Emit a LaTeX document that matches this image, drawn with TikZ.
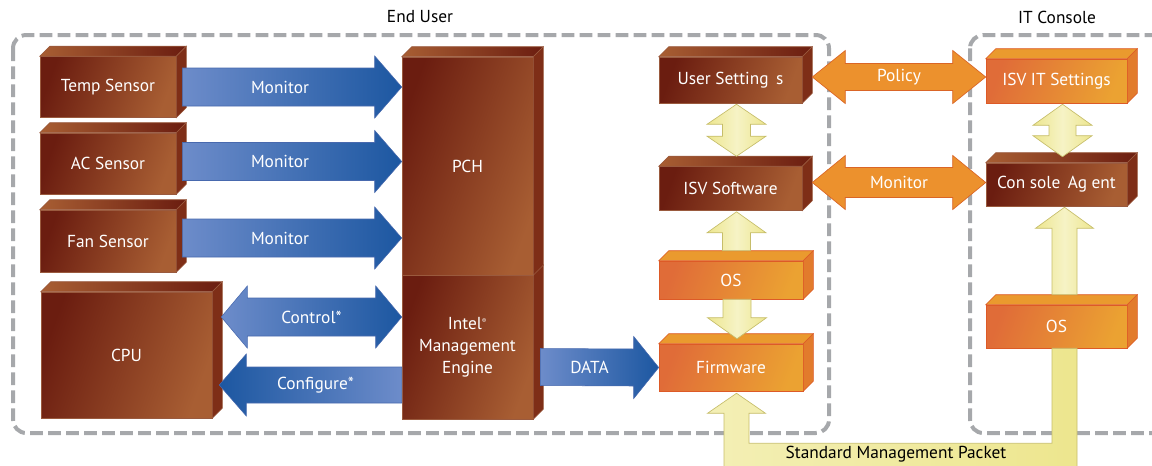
\documentclass[tikz,border=0pt]{standalone}
\usepackage{fontspec}
\setmainfont{PT Sans}
\usetikzlibrary{positioning,calc}

\definecolor{brownD}{HTML}{6B1D10}
\definecolor{brownL}{HTML}{A85E33}
\definecolor{brownS}{HTML}{7E2E17}
\definecolor{brownE}{HTML}{9A5A3E}
\definecolor{orangeD}{HTML}{E06C38}
\definecolor{orangeL}{HTML}{EBA232}
\definecolor{orangeT}{HTML}{EA9A2E}
\definecolor{orangeS}{HTML}{E27B2C}
\definecolor{orangeE}{HTML}{DD5A27}
\definecolor{blueL}{HTML}{6D8CCA}
\definecolor{blueD}{HTML}{1C57A1}
\definecolor{blueE}{HTML}{4869AE}
\definecolor{arrowO}{HTML}{EC912D}
\definecolor{arrowOE}{HTML}{DA6526}
\definecolor{yelF}{HTML}{EDE68E}
\definecolor{yelL}{HTML}{F6F3C6}
\definecolor{yelE}{HTML}{C6BD6A}
\definecolor{dashgray}{HTML}{A6A8AB}

\newcommand{\boxfont}{\fontsize{13}{16.5}\selectfont}

% top and side face of a box node
\newcommand{\boxfaces}[3]{%
  \path[#2] (#1.north west) -- ++(10,-10) -- ($(#1.north east)+(10,-10)$) -- (#1.north east) -- cycle;
  \path[#3] (#1.north east) -- ++(10,-10) -- ($(#1.south east)+(10,-10)$) -- (#1.south east) -- cycle;}

% block arrows: style, tail, tip, shaft half, head half, head length
\newcommand{\harrow}[6]{%
  \path[#1] ($(#2)+(0,-#4)$) -- ($(#3)+(#6,-#4)$) -- ($(#3)+(#6,-#5)$) -- (#3)
    -- ($(#3)+(#6,#5)$) -- ($(#3)+(#6,#4)$) -- ($(#2)+(0,#4)$) -- cycle;}
\newcommand{\varrow}[6]{%
  \path[#1] ($(#2)+(-#4,0)$) -- ($(#3)+(-#4,#6)$) -- ($(#3)+(-#5,#6)$) -- (#3)
    -- ($(#3)+(#5,#6)$) -- ($(#3)+(#4,#6)$) -- ($(#2)+(#4,0)$) -- cycle;}
\newcommand{\hdarrow}[6]{%
  \path[#1] (#2) -- ($(#2)+(#6,-#5)$) -- ($(#2)+(#6,-#4)$) -- ($(#3)+(-#6,-#4)$) -- ($(#3)+(-#6,-#5)$) -- (#3)
    -- ($(#3)+(-#6,#5)$) -- ($(#3)+(-#6,#4)$) -- ($(#2)+(#6,#4)$) -- ($(#2)+(#6,#5)$) -- cycle;}
\newcommand{\vdarrow}[6]{%
  \path[#1] (#2) -- ($(#2)+(#5,#6)$) -- ($(#2)+(#4,#6)$) -- ($(#3)+(#4,-#6)$) -- ($(#3)+(#5,-#6)$) -- (#3)
    -- ($(#3)+(-#5,-#6)$) -- ($(#3)+(-#4,-#6)$) -- ($(#2)+(-#4,#6)$) -- ($(#2)+(-#5,#6)$) -- cycle;}

\begin{document}
\begin{tikzpicture}[x=0.75pt, y=-0.75pt,
  boxsize/.style 2 args={minimum width={#1*0.75pt}, minimum height={#2*0.75pt}},
  brownbox/.style={draw=brownE, line width=0.4pt, left color=brownD, right color=brownL, shading angle=70, text=white, font=\boxfont, inner sep=0pt, align=center},
  orangebox/.style={draw=orangeE, line width=0.4pt, left color=orangeD, right color=orangeL, shading angle=70, text=white, font=\boxfont, inner sep=0pt, align=center},
  browntop/.style={draw=brownE, line width=0.4pt, left color=brownL, right color=brownD},
  brownside/.style={draw=brownE, line width=0.4pt, fill=brownS},
  orangetop/.style={draw=orangeE, line width=0.4pt, fill=orangeT},
  orangeside/.style={draw=orangeE, line width=0.4pt, fill=orangeS},
  bluearrowR/.style={draw=blueE, line width=0.4pt, left color=blueL, right color=blueD},
  bluearrowL/.style={draw=blueE, line width=0.4pt, left color=blueD, right color=blueL},
  orangearrow/.style={draw=arrowOE, line width=0.5pt, fill=arrowO},
  yellowarrow/.style={draw=yelE, line width=0.5pt, left color=yelF, right color=yelF, middle color=yelL},
  arrowtext/.style={text=white, font=\boxfont, inner sep=0pt},
  grouplabel/.style={text=black, font=\boxfont},
  groupbox/.style={draw=dashgray, line width=3pt, dash pattern=on 9.5pt off 4pt, rounded corners=10pt}
]
\useasboundingbox (0,0) rectangle (1152,465);
\clip (0,0) rectangle (1152,465);

% groups
\draw[groupbox] (13,35) rectangle (829,433);
\draw[groupbox] (970,35) rectangle (1185,433);
\node[grouplabel] (enduser) at (420,17) {End User};
\node[grouplabel] (itconsole) at (1057,17) {IT Console};

% end user boxes
\node[brownbox, boxsize={136}{61}] (temp) at (108,87) {Temp Sensor};
\boxfaces{temp}{browntop}{brownside}
\node[brownbox, boxsize={136}{61}] (ac) at (108,163.5) {AC Sensor};
\boxfaces{ac}{browntop}{brownside}
\node[brownbox, boxsize={136}{62}] (fan) at (108,241) {Fan Sensor};
\boxfaces{fan}{browntop}{brownside}
\node[brownbox, boxsize={171}{126}] (cpu) at (126.5,355) {CPU};
\boxfaces{cpu}{browntop}{brownside}

\node[brownbox, boxsize={131}{144}] (me) at (467.5,347) {Intel\textsuperscript{\tiny ®}\\Management\\Engine};
\path[brownside] (me.north east) -- ++(10,-10) -- ($(me.south east)+(10,-10)$) -- (me.south east) -- cycle;
\node[brownbox, boxsize={131}{218}] (pch) at (467.5,166) {PCH};
\boxfaces{pch}{browntop}{brownside}

\node[brownbox, boxsize={143}{46}] (usr) at (730.5,80) {User Setting\, s};
\boxfaces{usr}{browntop}{brownside}
\node[brownbox, boxsize={143}{44}] (isv) at (730.5,188.5) {ISV Software};
\boxfaces{isv}{browntop}{brownside}
\node[orangebox, boxsize={144}{38}] (os1) at (731,280) {OS};
\boxfaces{os1}{orangetop}{orangeside}
\node[orangebox, boxsize={144}{47}] (fw) at (731,367.5) {Firmware};
\boxfaces{fw}{orangetop}{orangeside}

% it console boxes
\node[orangebox, boxsize={141}{44}] (itset) at (1056.5,81) {ISV IT Settings};
\boxfaces{itset}{orangetop}{orangeside}
\node[brownbox, boxsize={141}{43}] (agent) at (1056.5,184.5) {Con sole\, Ag ent};
\boxfaces{agent}{browntop}{brownside}
\node[orangebox, boxsize={141}{43}] (os2) at (1056.5,326.5) {OS};
\boxfaces{os2}{orangetop}{orangeside}

% monitor arrows
\coordinate (m1a) at ($(temp.east)+(6,0)$);
\coordinate (m1b) at (pch.west |- temp.east);
\coordinate (m2a) at ($(ac.east)+(6,-2)$);
\coordinate (m2b) at (pch.west |- m2a);
\coordinate (m3a) at ($(fan.east)+(6,-3)$);
\coordinate (m3b) at (pch.west |- m3a);
\harrow{bluearrowR}{m1a}{m1b}{19}{31}{-27}
\harrow{bluearrowR}{m2a}{m2b}{19}{31}{-27}
\harrow{bluearrowR}{m3a}{m3b}{19}{31}{-27}
\node[arrowtext] (mon1) at ($(m1a)!0.5!(m1b)+(-12,0)$) {Monitor};
\node[arrowtext] (mon2) at ($(m2a)!0.5!(m2b)+(-12,0)$) {Monitor};
\node[arrowtext] (mon3) at ($(m3a)!0.5!(m3b)+(-12,0)$) {Monitor};

% control / configure
\coordinate (ca) at ($(cpu.east |- me.west)+(9,-30)$);
\coordinate (cb) at ($(me.west)+(0,-30)$);
\hdarrow{bluearrowR}{ca}{cb}{19}{31}{26}
\node[arrowtext] (ctrl) at ($(ca)!0.5!(cb)$) {Control*};
\coordinate (cf1) at ($(cpu.east |- me.west)+(7,38)$);
\coordinate (cf2) at ($(me.west)+(0,38)$);
\harrow{bluearrowL}{cf2}{cf1}{18}{31}{27}
\node[arrowtext] (conf) at ($(cf1)!0.5!(cf2)+(5,0)$) {Configure*};

% data
\coordinate (da) at ($(me.east)+(7,20)$);
\coordinate (db) at (fw.west);
\harrow{bluearrowR}{da}{db}{18.5}{31}{-25}
\node[arrowtext] (data) at ($(da)!0.5!(db)+(-10,0)$) {DATA};

% policy / monitor to console
\coordinate (pa) at ($(usr.east)+(10,-3)$);
\coordinate (pb) at (itset.west |- pa);
\hdarrow{orangearrow}{pa}{pb}{13.5}{26.5}{33}
\node[arrowtext] (policy) at ($(pa)!0.5!(pb)$) {Policy};
\coordinate (ma) at ($(isv.east)+(10,-6)$);
\coordinate (mb) at (agent.west |- ma);
\hdarrow{orangearrow}{ma}{mb}{15}{27}{33}
\node[arrowtext] (mon4) at ($(ma)!0.5!(mb)$) {Monitor};

% software stack arrows
\coordinate (y1a) at ($(usr.south)+(6,1)$);
\coordinate (y1b) at ($(isv.north)+(6,-10)$);
\vdarrow{yellowarrow}{y1a}{y1b}{14}{29.5}{20}
\coordinate (y2b) at ($(isv.south)+(6,1)$);
\coordinate (y2a) at ($(y2b |- os1.north)+(0,-10)$);
\varrow{yellowarrow}{y2a}{y2b}{14}{29.5}{21}
\coordinate (y3a) at ($(os1.south)+(6,0)$);
\coordinate (y3b) at ($(y3a |- fw.north)+(0,-5)$);
\varrow{yellowarrow}{y3a}{y3b}{14}{29.5}{-21}
\coordinate (y4a) at ($(itset.south)+(6,1)$);
\coordinate (y4b) at ($(y4a |- agent.north)+(0,-6)$);
\vdarrow{yellowarrow}{y4a}{y4b}{13.5}{29.5}{21}
\coordinate (y5a) at ($(os2.north)+(8,-10)$);
\coordinate (y5b) at ($(agent.south)+(8,1)$);
\varrow{yellowarrow}{y5a}{y5b}{12.5}{29}{21}

% standard management packet
\coordinate (sp) at ($(fw.south)+(5.5,2)$);
\coordinate (so) at ($(os2.south)+(8,0)$);
\path[yellowarrow, left color=yelL!70!yelF, middle color=yelF!80!yelL, right color=yelF] (sp) -- ++(29,20) -- ++(-16.5,0) |- ($(so)+(-12.5,95)$) -- ($(so)+(-12.5,0)$)
  -- ($(so)+(12.5,0)$) -- ($(so)+(12.5,125)$) -| ($(sp)+(-12.5,20)$) -- ++(-16.5,0) -- cycle;
\node[grouplabel] (smp) at (896,454) {Standard Management Packet};

\end{tikzpicture}
\end{document}
